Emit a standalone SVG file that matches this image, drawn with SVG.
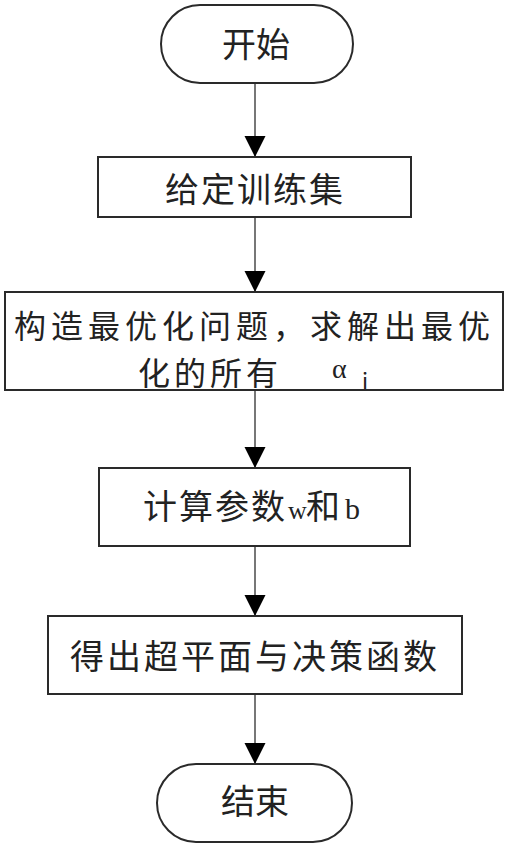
<svg xmlns="http://www.w3.org/2000/svg" width="512" height="850" viewBox="0 0 512 850">
  <style>
    .box { fill: #ffffff; stroke: #2a2a2a; stroke-width: 2; }
    .edge { stroke: #555555; stroke-width: 1.6; fill: none; marker-end: url(#arrow); }
    .t { font-family: "Noto Sans CJK SC", "Noto Sans", sans-serif; fill: #222222; }
    .big { font-size: 34px; }
    .mid { font-size: 32px; }
    .lat { font-family: "Liberation Serif", "Noto Sans CJK SC", serif; fill: #222222; }
  </style>
  <defs>
    <marker id="arrow" markerUnits="userSpaceOnUse" markerWidth="22" markerHeight="22" refX="21" refY="10.5" orient="auto">
      <path d="M0,0 L21,10.5 L0,21 Z" fill="#000000"/>
    </marker>
  </defs>
  <rect width="512" height="850" fill="#ffffff"/>

  <!-- connectors -->
  <g id="connectors">
    <line class="edge" x1="255" y1="83" x2="255" y2="157"/>
    <line class="edge" x1="255" y1="217" x2="255" y2="292"/>
    <line class="edge" x1="255" y1="390" x2="255" y2="468"/>
    <line class="edge" x1="255" y1="546" x2="255" y2="616"/>
    <line class="edge" x1="255" y1="694" x2="255" y2="764"/>
  </g>

  <!-- start terminal -->
  <g id="start">
    <rect class="box" x="161" y="5" width="192" height="78" rx="39" ry="39"/>
    <text class="t big" x="256" y="57" text-anchor="middle">开始</text>
  </g>

  <!-- training set -->
  <g id="training-set">
    <rect class="box" x="98" y="157" width="313" height="60"/>
    <text class="t big" x="255" y="202" text-anchor="middle" letter-spacing="2">给定训练集</text>
  </g>

  <!-- optimisation problem -->
  <g id="optimise">
    <rect class="box" x="5" y="292" width="498" height="98"/>
    <text class="t mid" x="14" y="338" letter-spacing="5">构造最优化问题，求解出最优</text>
    <text class="t mid" x="138" y="385" letter-spacing="4">化的所有</text>
    <text class="lat" x="332" y="378" font-size="28">α</text>
    <text class="t" x="362" y="389" font-size="22">i</text>
  </g>

  <!-- compute parameters -->
  <g id="compute-params">
    <rect class="box" x="99" y="468" width="311" height="78"/>
    <text class="t big" x="143" y="519" letter-spacing="2">计算参数</text>
    <text class="lat" x="288" y="519" font-size="26">w</text>
    <text class="t big" x="306" y="519">和</text>
    <text class="lat" x="345" y="519" font-size="30">b</text>
  </g>

  <!-- hyperplane and decision function -->
  <g id="hyperplane">
    <rect class="box" x="48" y="616" width="414" height="78"/>
    <text class="t big" x="255" y="669" text-anchor="middle" letter-spacing="3">得出超平面与决策函数</text>
  </g>

  <!-- end terminal -->
  <g id="end">
    <rect class="box" x="157" y="764" width="195" height="78" rx="39" ry="39"/>
    <text class="t big" x="255" y="814" text-anchor="middle">结束</text>
  </g>
</svg>
